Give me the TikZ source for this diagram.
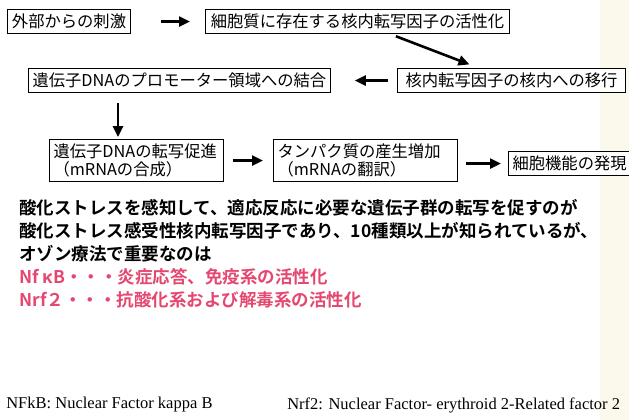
\documentclass[tikz,border=0pt]{standalone}
\usepackage{fontspec}
\setmainfont{Liberation Serif}
\newfontfamily\cjk{Noto Sans CJK JP}
\newfontfamily\cjkbold{Noto Sans CJK JP Bold}
\usetikzlibrary{arrows.meta}
\definecolor{nfred}{RGB}{228,72,112}
\definecolor{scanedge}{RGB}{251,248,236}

\begin{document}
\begin{tikzpicture}[x=1pt,y=-1pt,->,>={Triangle[length=11pt,width=10pt]},line width=2.6pt,
	main node/.style={draw,fill=white,line width=1.1pt,anchor=north west,inner xsep=4pt,inner ysep=0pt,
		minimum height=24pt,font=\cjk\fontsize{16.3}{18}\selectfont},
	two line/.style={main node,text width=#1,align=left,minimum height=42pt},
	text line/.style={anchor=west,inner sep=0pt,font=\cjkbold\fontsize{17.5}{20}\selectfont},
	note/.style={anchor=west,inner sep=0pt,font=\fontsize{16.5}{18}\selectfont}]
	
	\useasboundingbox (0,0) rectangle (629,420);
	\fill[scanedge,-] (600,0) rectangle (629,420);
	
	\node[main node,minimum width=123pt] (1) at (7,9) {外部からの刺激};
	\node[main node,minimum width=304pt] (2) at (205,9) {細胞質に存在する核内転写因子の活性化};
	\node[main node,minimum width=228pt] (3) at (397,68) {核内転写因子の核内への移行};
	\node[main node,minimum width=290pt] (4) at (28,68) {遺伝子DNAのプロモーター領域への結合};
	\node[two line=166pt] (5) at (49,139) {遺伝子DNAの転写促進\\（mRNAの合成）};
	\node[two line=176pt] (6) at (273,139) {タンパク質の産生増加\\（mRNAの翻訳）};
	\node[main node,minimum width=117pt] (7) at (508,151) {細胞機能の発現};
	
	\path
	(1) edge[shorten <=30pt, shorten >=15pt] (2)
	(2) edge[shorten <=6pt, shorten >=10pt] (3)
	(3) edge[shorten <=9pt, shorten >=24pt] (4)
	([xshift=90pt]4.south west) edge[shorten <=10pt, shorten >=2pt] ([xshift=69pt]5.north west)
	(5) edge[shorten <=9pt, shorten >=10pt] (6)
	(6.east |- 7.west) edge[shorten <=8pt, shorten >=7pt] (7.west);
	
	% explanation below the chart
	\node[text line] (t1) at (18,208) {酸化ストレスを感知して、適応反応に必要な遺伝子群の転写を促すのが};
	\node[text line] (t2) at (18,231) {酸化ストレス感受性核内転写因子であり、10種類以上が知られているが、};
	\node[text line] (t3) at (18,254) {オゾン療法で重要なのは};
	\node[text line,nfred] (t4) at (18,277) {Nf κB・・・炎症応答、免疫系の活性化};
	\node[text line,nfred] (t5) at (18,300) {Nrf２・・・抗酸化系および解毒系の活性化};
	
	\node[note] (f1) at (5,405) {NFkB: Nuclear Factor kappa B};
	\node[note] (f2) at (286,405) {Nrf2: Nuclear Factor- erythroid 2-Related factor 2};
\end{tikzpicture}
\end{document}
